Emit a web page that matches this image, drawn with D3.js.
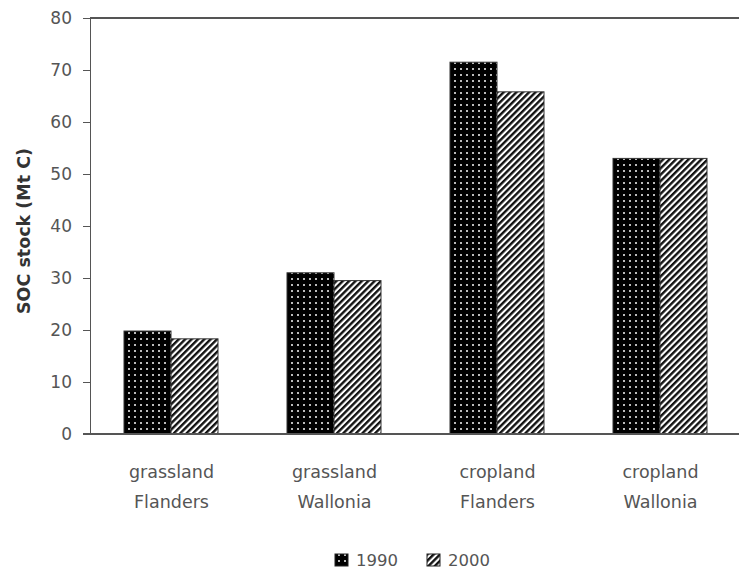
<!DOCTYPE html>
<html>
<head>
  <meta charset="utf-8">
  <script src="https://d3js.org/d3.v7.min.js"></script>
  <style>
    body { margin: 0; background: #fff; font-family: "DejaVu Sans", sans-serif; }
    .axis path, .axis line { stroke: #555; stroke-width: 1.5; shape-rendering: crispEdges; }
    .axis text { font-size: 17px; fill: #555; font-family: "DejaVu Sans", sans-serif; }
    .cat-label { font-size: 17.5px; fill: #555; text-anchor: middle; }
    .y-title { font-size: 17.5px; font-weight: bold; fill: #333; text-anchor: middle; }
    .legend text { font-size: 16.5px; fill: #555; }
  </style>
</head>
<body>
  <div id="chart"></div>
  <script>
    // data
    const categories = [["grassland", "Flanders"], ["grassland", "Wallonia"], ["cropland", "Flanders"], ["cropland", "Wallonia"]];
    const seriesNames = ["1990", "2000"];
    const values1990 = [19.8, 31.0, 71.5, 53.0];
    const values2000 = [18.3, 29.5, 65.8, 53.0];
    const yTicks = [0, 10, 20, 30, 40, 50, 60, 70, 80];

    const W = 739, H = 571;
    const plot = {left: 90, right: 742, top: 18, bottom: 434};

    const svg = d3.select("#chart").append("svg")
      .attr("width", W).attr("height", H);

    // fill patterns
    const defs = svg.append("defs");
    const dots = defs.append("pattern")
      .attr("id", "pat1990").attr("patternUnits", "userSpaceOnUse")
      .attr("width", 6).attr("height", 6);
    dots.append("rect").attr("width", 6).attr("height", 6).attr("fill", "#000");
    dots.append("rect").attr("x", 2).attr("y", 2).attr("width", 2).attr("height", 2).attr("fill", "#bbb");

    const stripes = defs.append("pattern")
      .attr("id", "pat2000").attr("patternUnits", "userSpaceOnUse")
      .attr("width", 4.5).attr("height", 4.5)
      .attr("patternTransform", "rotate(45)");
    stripes.append("rect").attr("width", 4.5).attr("height", 4.5).attr("fill", "#fff");
    stripes.append("rect").attr("width", 2.4).attr("height", 4.5).attr("fill", "#111");

    const fills = {"1990": "url(#pat1990)", "2000": "url(#pat2000)"};

    const x0 = d3.scaleBand()
      .domain(d3.range(categories.length))
      .range([plot.left, plot.right]);

    const x1 = d3.scaleBand()
      .domain(seriesNames)
      .range([34, 128]);

    const y = d3.scaleLinear()
      .domain([0, 80])
      .range([plot.bottom, plot.top]);

    // top frame line
    svg.append("line")
      .attr("x1", plot.left).attr("x2", W)
      .attr("y1", plot.top).attr("y2", plot.top)
      .attr("stroke", "#555").attr("stroke-width", 1.5)
      .attr("shape-rendering", "crispEdges");

    // bars
    const rows = categories.map((c, i) => ({i, vals: [
      {s: "1990", v: values1990[i]},
      {s: "2000", v: values2000[i]}
    ]}));

    const groups = svg.selectAll(".grp")
      .data(rows).enter().append("g")
        .attr("class", "grp")
        .attr("transform", d => `translate(${x0(d.i)},0)`);

    groups.selectAll("rect")
      .data(d => d.vals).enter().append("rect")
        .attr("x", d => x1(d.s))
        .attr("y", d => y(d.v))
        .attr("width", x1.bandwidth())
        .attr("height", d => y(0) - y(d.v))
        .attr("fill", d => fills[d.s])
        .attr("stroke", "#333")
        .attr("stroke-width", 1);

    // axes
    svg.append("g")
      .attr("class", "axis")
      .attr("transform", `translate(${plot.left},0)`)
      .call(d3.axisLeft(y).tickValues(yTicks).tickSize(7).tickPadding(11).tickFormat(d3.format("d")));

    svg.append("g")
      .attr("class", "axis")
      .attr("transform", `translate(0,${plot.bottom})`)
      .call(d3.axisBottom(x0).tickSize(0).tickFormat(""))
      .select(".domain").attr("d", `M${plot.left - 7},0H${W}`);

    // category labels
    const labels = svg.selectAll(".cat-label")
      .data(categories).enter().append("text")
        .attr("class", "cat-label")
        .attr("x", (d, i) => x0(i) + x0.bandwidth() / 2)
        .attr("y", 478);
    labels.append("tspan").attr("x", (d, i) => x0(i) + x0.bandwidth() / 2).text(d => d[0]);
    labels.append("tspan").attr("x", (d, i) => x0(i) + x0.bandwidth() / 2).attr("dy", 30).text(d => d[1]);

    // y title
    svg.append("text")
      .attr("class", "y-title")
      .attr("transform", `translate(30,231) rotate(-90)`)
      .text("SOC stock (Mt C)");

    // legend
    const legendX = [335, 427];
    const legend = svg.append("g").attr("class", "legend");
    seriesNames.forEach((s, i) => {
      legend.append("rect")
        .attr("x", legendX[i]).attr("y", 554)
        .attr("width", 13).attr("height", 12)
        .attr("fill", fills[s]).attr("stroke", "#222");
      legend.append("text")
        .attr("x", legendX[i] + 21).attr("y", 566)
        .text(s);
    });
  </script>
</body>
</html>
